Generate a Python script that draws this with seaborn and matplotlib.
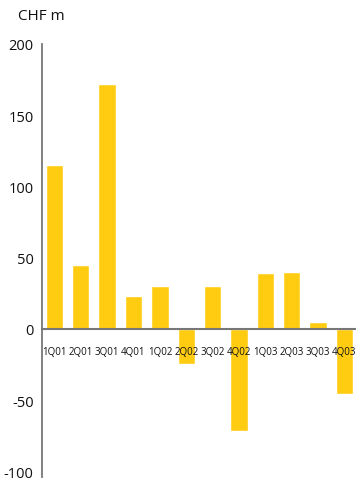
import pandas as pd
import matplotlib
matplotlib.use("Agg")
import matplotlib.pyplot as plt
import seaborn as sns

# ========== data ==========
quarters = ['1Q01', '2Q01', '3Q01', '4Q01', '1Q02', '2Q02',
            '3Q02', '4Q02', '1Q03', '2Q03', '3Q03', '4Q03']
values = [115, 45, 172, 23, 30, -25, 30, -72, 39, 40, 5, -46]
y_ticks = [-100, -50, 0, 50, 100, 150, 200]

df = pd.DataFrame({'quarter': quarters, 'value': values})

sns.set_style('white')
plt.rcParams['font.family'] = ['Open Sans', 'DejaVu Sans']

fig = plt.figure(figsize=(3.56, 4.81), dpi=100)
ax = fig.add_axes([42 / 356, 3 / 481, 314 / 356, 433 / 481])

sns.barplot(data=df, x='quarter', y='value', color='#FFCC12',
            saturation=1, width=0.66, ax=ax)

ax.set_ylim(-104, 200)
ax.set_xlim(-0.47, 11.44)
ax.set_yticks(y_ticks)
ax.set_yticklabels([str(v) for v in y_ticks], fontsize=10.5)
ax.set_xlabel('')
ax.set_ylabel('')
ax.set_axisbelow(False)

# axis lines
for s in ['top', 'right']:
    ax.spines[s].set_visible(False)
ax.spines['left'].set_color('#777777')
ax.spines['left'].set_linewidth(1.3)
ax.spines['bottom'].set_position(('data', 0))
ax.spines['bottom'].set_color('#777777')
ax.spines['bottom'].set_linewidth(1.5)

ax.tick_params(axis='y', length=0, pad=6, colors='#111111')
ax.tick_params(axis='x', length=0, pad=12, labelsize=7, colors='#111111')

fig.text(18 / 356, 1 - 16 / 481, 'CHF m', fontsize=11, va='center', ha='left',
         color='#111111')

fig.savefig('out.png', dpi=100)
